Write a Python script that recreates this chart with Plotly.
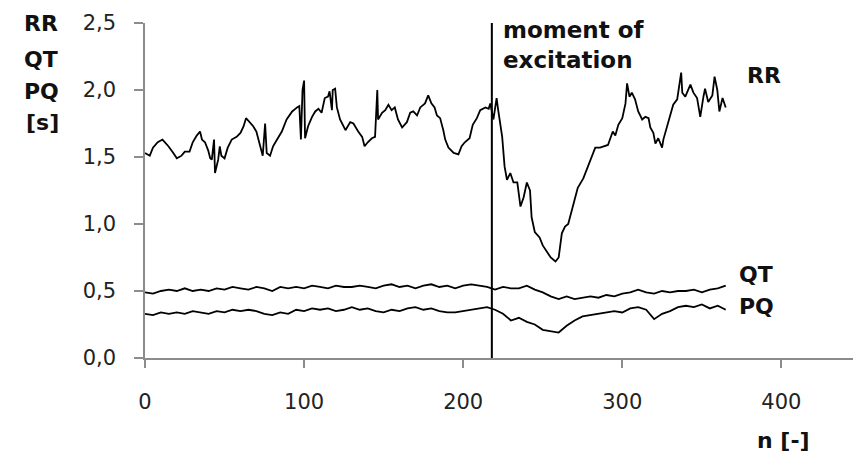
import plotly.graph_objects as go

# ---------------- data ----------------
rr_n = [0, 3, 5, 8, 11, 12.5, 14.7, 17.8, 20, 23, 25, 28, 30, 32.5, 34.6, 35.8, 37.7, 39.7, 41, 42,
        43.4, 44, 46, 47, 48, 50, 52, 54.5, 57.6, 60, 62, 63.5, 66, 68, 70, 72, 74, 75.5, 76.5, 78.6,
        80.5, 83, 86, 89, 92.5, 95.6, 97, 98, 99, 100, 100.6, 102.5, 105, 107, 109, 111, 113, 115, 116,
        117.5, 118, 119.5, 120.6, 122.6, 126, 129, 131, 134, 136.5, 138, 140, 142.6, 144.6, 146, 146.5,
        149, 151, 153, 155, 157, 159, 161.6, 164.6, 166.7, 168.6, 171, 173, 176, 178, 180, 182, 183.5,
        185.5, 187.5, 188.7, 190.7, 194, 197, 199, 201, 204, 206, 208.6, 210.7, 214, 216, 217, 219, 221,
        222, 224.5, 226, 227.5, 229.6, 231.6, 234, 236, 238, 240, 242, 243, 245, 248, 250, 253, 255, 258,
        260, 262, 264, 266, 269, 272, 275.5, 278.6, 282, 283, 286, 289, 291, 294, 295.6, 297.5, 300, 302,
        303, 304.5, 306, 308, 310, 312.5, 314.5, 316.5, 317.6, 319.5, 320.8, 322.6, 325, 325.8, 328, 330,
        332, 334.5, 336, 337, 337.7, 339.6, 342.8, 344.7, 347, 349, 351, 352, 354, 356.6, 358, 359.7, 361,
        363, 365]
rr_v = [1.53, 1.51, 1.57, 1.61, 1.63, 1.61, 1.58, 1.53, 1.49, 1.51, 1.54, 1.54, 1.61, 1.66, 1.69, 1.63,
        1.61, 1.55, 1.49, 1.48, 1.63, 1.38, 1.48, 1.58, 1.51, 1.49, 1.57, 1.63, 1.65, 1.68, 1.73, 1.79,
        1.76, 1.73, 1.69, 1.59, 1.51, 1.75, 1.53, 1.51, 1.58, 1.63, 1.69, 1.78, 1.84, 1.87, 1.88, 1.63,
        2.00, 2.07, 1.64, 1.73, 1.80, 1.84, 1.86, 1.83, 1.94, 1.95, 1.99, 1.85, 2.00, 2.01, 1.87, 1.78,
        1.70, 1.76, 1.75, 1.69, 1.65, 1.58, 1.61, 1.64, 1.65, 2.00, 1.78, 1.83, 1.85, 1.89, 1.85, 1.87,
        1.78, 1.72, 1.76, 1.83, 1.84, 1.81, 1.87, 1.90, 1.96, 1.90, 1.87, 1.81, 1.79, 1.70, 1.63, 1.57,
        1.53, 1.52, 1.58, 1.61, 1.64, 1.74, 1.79, 1.85, 1.87, 1.86, 1.90, 1.78, 1.94, 1.85, 1.65, 1.43,
        1.33, 1.38, 1.31, 1.31, 1.13, 1.20, 1.31, 1.25, 1.05, 0.94, 0.90, 0.84, 0.78, 0.75, 0.72, 0.75,
        0.93, 0.98, 1.00, 1.13, 1.27, 1.34, 1.43, 1.53, 1.57, 1.57, 1.58, 1.59, 1.69, 1.66, 1.74, 1.79,
        1.90, 2.05, 1.95, 1.98, 1.93, 1.84, 1.78, 1.80, 1.79, 1.72, 1.68, 1.60, 1.64, 1.57, 1.63, 1.72,
        1.80, 1.89, 1.93, 2.04, 2.13, 1.98, 1.95, 2.04, 1.98, 1.94, 1.80, 1.95, 2.01, 1.91, 1.96, 2.10,
        2.00, 1.84, 1.94, 1.87]

qt_pq_n = list(range(0, 366, 5))
qt_v = [0.49, 0.48, 0.50, 0.51, 0.50, 0.52, 0.50, 0.51, 0.50, 0.52, 0.51, 0.53, 0.52, 0.51, 0.53,
        0.52, 0.50, 0.53, 0.52, 0.53, 0.52, 0.54, 0.53, 0.52, 0.54, 0.53, 0.53, 0.54, 0.53, 0.52,
        0.54, 0.55, 0.53, 0.54, 0.52, 0.54, 0.55, 0.53, 0.54, 0.52, 0.54, 0.55, 0.54, 0.53, 0.51,
        0.53, 0.52, 0.52, 0.54, 0.51, 0.49, 0.46, 0.44, 0.46, 0.44, 0.45, 0.46, 0.45, 0.47, 0.46,
        0.48, 0.49, 0.51, 0.49, 0.48, 0.50, 0.49, 0.50, 0.50, 0.51, 0.49, 0.51, 0.52, 0.54]
pq_v = [0.33, 0.32, 0.34, 0.33, 0.34, 0.33, 0.35, 0.34, 0.33, 0.35, 0.34, 0.36, 0.35, 0.36, 0.35,
        0.33, 0.32, 0.34, 0.33, 0.36, 0.35, 0.37, 0.36, 0.37, 0.35, 0.36, 0.38, 0.36, 0.37, 0.35,
        0.34, 0.36, 0.35, 0.37, 0.38, 0.36, 0.37, 0.35, 0.34, 0.34, 0.35, 0.36, 0.37, 0.38, 0.36,
        0.33, 0.28, 0.30, 0.27, 0.25, 0.21, 0.20, 0.19, 0.24, 0.28, 0.31, 0.32, 0.33, 0.34, 0.35,
        0.34, 0.37, 0.38, 0.36, 0.29, 0.33, 0.35, 0.38, 0.39, 0.38, 0.40, 0.37, 0.39, 0.36]

excitation_n = 218
x_ticks = [0, 100, 200, 300, 400]
y_ticks = [0.0, 0.5, 1.0, 1.5, 2.0, 2.5]

# ---------------- figure ----------------
W, H = 854, 459
L, R, T, B = 145, 1, 23, 101
PW, PH = W - L - R, H - T - B


def px(x):
    return (x - L) / PW


def py(y):
    return (H - B - y) / PH


FONT = "DejaVu Sans"
AXC = "#8c8c8c"

fig = go.Figure()
for xs, ys in [(rr_n, rr_v), (qt_pq_n, qt_v), (qt_pq_n, pq_v)]:
    fig.add_trace(go.Scatter(x=xs, y=ys, mode="lines",
                             line=dict(color="black", width=1.8),
                             showlegend=False, hoverinfo="skip"))

fig.add_shape(type="line", xref="x", yref="y", x0=excitation_n, x1=excitation_n,
              y0=0, y1=2.5, line=dict(color="black", width=2))

ann = []
bold = dict(family=FONT, size=22, color="#111")
ann.append(dict(x=excitation_n, xref="x", xshift=9, xanchor="left",
                y=py(45), yref="paper", yanchor="middle", align="left",
                text="<b>moment of<br>excitation</b>", showarrow=False,
                font=dict(family=FONT, size=23, color="#111")))
for txt, xl, yc in [("RR", 22, 23), ("QT", 22, 59), ("PQ", 22, 91), ("[s]", 24, 122),
                    ("RR", 745, 75), ("QT", 737, 274), ("PQ", 737, 306), ("n [-]", 755, 440)]:
    ann.append(dict(x=px(xl), xref="paper", xanchor="left", y=py(yc), yref="paper",
                    yanchor="middle", text=f"<b>{txt}</b>", showarrow=False, font=bold))

fig.update_layout(
    width=W, height=H, margin=dict(l=L, r=R, t=T, b=B, pad=0),
    paper_bgcolor="white", plot_bgcolor="white",
    separators=", ",
    annotations=ann,
    xaxis=dict(range=[0, 445], tickvals=x_ticks, showgrid=False, zeroline=False,
               showline=True, linecolor=AXC, linewidth=1.5, ticks="outside",
               ticklen=8, tickwidth=1.5, tickcolor=AXC, ticklabelstandoff=16,
               automargin=False,
               tickfont=dict(family=FONT, size=21, color="#222")),
    yaxis=dict(range=[0, 2.5], tickvals=y_ticks, tickformat=".1f", showgrid=False,
               zeroline=False, showline=True, linecolor=AXC, linewidth=1.5,
               ticks="outside", ticklen=9, tickwidth=1.5, tickcolor=AXC,
               ticklabelstandoff=14, automargin=False,
               tickfont=dict(family=FONT, size=21, color="#222")),
)

fig.write_html("out.html", config={"displayModeBar": False},
               post_script="document.body.style.margin='0';document.body.style.overflow='hidden';")
